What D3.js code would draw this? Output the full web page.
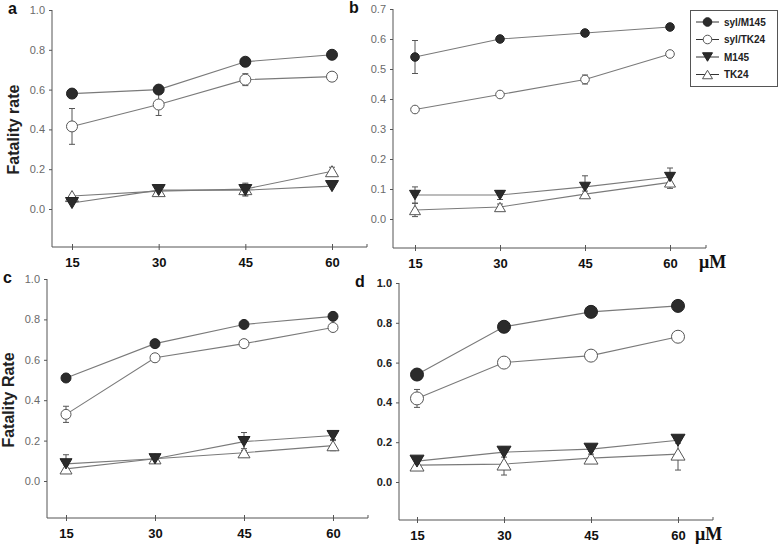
<!DOCTYPE html>
<html><head><meta charset="utf-8">
<script src="https://cdn.jsdelivr.net/npm/d3@7"></script>
<style>body{margin:0;background:#fff}svg{display:block}</style>
</head><body>
<script>
const doses = [15, 30, 45, 60];
const seriesNames = ["syl/M145", "syl/TK24", "M145", "TK24"];

// panel a
const aSylM145 = [0.58, 0.60, 0.74, 0.775], aSylM145Err = [0, 0, 0.01, 0];
const aSylTK24 = [0.415, 0.525, 0.65, 0.665], aSylTK24Err = [0.09, 0.055, 0.03, 0];
const aM145 = [0.03, 0.095, 0.095, 0.115], aM145Err = [0, 0.02, 0.03, 0];
const aTK24 = [0.065, 0.09, 0.10, 0.19], aTK24Err = [0, 0.02, 0.03, 0.02];
// panel b
const bSylM145 = [0.54, 0.60, 0.62, 0.64], bSylM145Err = [0.055, 0, 0, 0];
const bSylTK24 = [0.365, 0.415, 0.465, 0.55], bSylTK24Err = [0, 0, 0.015, 0];
const bM145 = [0.08, 0.08, 0.107, 0.14], bM145Err = [0.027, 0.015, 0.037, 0.03];
const bTK24 = [0.03, 0.04, 0.083, 0.122], bTK24Err = [0.022, 0.01, 0.01, 0.02];
// panel c
const cSylM145 = [0.51, 0.68, 0.775, 0.815], cSylM145Err = [0, 0, 0, 0];
const cSylTK24 = [0.33, 0.61, 0.68, 0.76], cSylTK24Err = [0.04, 0, 0, 0];
const cM145 = [0.085, 0.11, 0.195, 0.225], cM145Err = [0.045, 0.02, 0.045, 0.02];
const cTK24 = [0.06, 0.11, 0.14, 0.175], cTK24Err = [0.02, 0.02, 0.02, 0.025];
// panel d
const dSylM145 = [0.54, 0.78, 0.855, 0.885], dSylM145Err = [0, 0, 0, 0];
const dSylTK24 = [0.42, 0.60, 0.635, 0.73], dSylTK24Err = [0.045, 0, 0.02, 0];
const dM145 = [0.105, 0.15, 0.165, 0.21], dM145Err = [0.015, 0.025, 0.01, 0.015];
const dTK24 = [0.085, 0.09, 0.12, 0.14], dTK24Err = [0.015, 0.055, 0.02, 0.08];

const yTicksA = [0, 0.2, 0.4, 0.6, 0.8, 1.0];
const yTicksB = [0, 0.1, 0.2, 0.3, 0.4, 0.5, 0.6, 0.7];
const unitLabel = "\u03bcM";

const panels = [
  {id:"a", ylabel:"Fatality rate", yMax:1, yTicks:yTicksA, ax:52, top:10, y0:209, xaxY:247, x15:72, x60:332, xEnd:367, r:5.5, tri:6.5, unitX:null, dark:false,
   series:[[aSylM145,aSylM145Err],[aSylTK24,aSylTK24Err],[aM145,aM145Err],[aTK24,aTK24Err]]},
  {id:"b", ylabel:null, yMax:0.7, yTicks:yTicksB, ax:393, top:9, y0:219, xaxY:248, x15:415, x60:670, xEnd:706, r:4.3, tri:5.5, unitX:699, dark:false,
   series:[[bSylM145,bSylM145Err],[bSylTK24,bSylTK24Err],[bM145,bM145Err],[bTK24,bTK24Err]]},
  {id:"c", ylabel:"Fatality Rate", yMax:1, yTicks:yTicksA, ax:47, top:279, y0:481, xaxY:518, x15:66, x60:333, xEnd:368, r:5, tri:6, unitX:null, dark:false,
   series:[[cSylM145,cSylM145Err],[cSylTK24,cSylTK24Err],[cM145,cM145Err],[cTK24,cTK24Err]]},
  {id:"d", ylabel:null, yMax:1, yTicks:yTicksA, ax:399, top:283, y0:482, xaxY:520, x15:417, x60:678, xEnd:713, r:6.5, tri:7, unitX:695, dark:true,
   series:[[dSylM145,dSylM145Err],[dSylTK24,dSylTK24Err],[dM145,dM145Err],[dTK24,dTK24Err]]}
];

const svg = d3.select("body").append("svg").attr("width",780).attr("height",547)
  .style("font-family","Arial, 'Liberation Sans', sans-serif");

const lineCol = "#7a7a7a";
function triPath(size, down){
  const h = size*1.7, w = size;
  return down ? `M${-w},${-h/2}L${w},${-h/2}L0,${h/2}Z` : `M0,${-h/2}L${w},${h/2}L${-w},${h/2}Z`;
}
function drawMarker(g, kind, x, y, p){
  if(kind===0) g.append("circle").attr("cx",x).attr("cy",y).attr("r",p.r).attr("fill","#2b2b2b").attr("stroke","#222");
  else if(kind===1) g.append("circle").attr("cx",x).attr("cy",y).attr("r",p.r).attr("fill","#fff").attr("stroke","#555").attr("stroke-width",1);
  else if(kind===2) g.append("path").attr("d",triPath(p.tri,true)).attr("transform",`translate(${x},${y})`).attr("fill","#2b2b2b").attr("stroke","#222");
  else g.append("path").attr("d",triPath(p.tri,false)).attr("transform",`translate(${x},${y})`).attr("fill","#fff").attr("stroke","#555");
}

panels.forEach(p=>{
  const g = svg.append("g");
  const x = d3.scaleLinear().domain([15,60]).range([p.x15,p.x60]);
  const y = d3.scaleLinear().domain([0,p.yMax]).range([p.y0,p.top]);
  // y axis
  const yAx = d3.axisLeft(y).tickValues(p.yTicks).tickSize(3).tickPadding(4).tickFormat(d3.format(".1f"));
  const yg = g.append("g").attr("transform",`translate(${p.ax},0)`).call(yAx);
  yg.select(".domain").remove();
  yg.selectAll("line").attr("stroke","#555");
  yg.selectAll("text").attr("font-size", 11).attr("fill", p.dark ? "#222" : "#6a6a6a")
    .attr("font-weight", p.dark ? "bold" : "normal");
  g.append("line").attr("x1",p.ax).attr("x2",p.ax).attr("y1",p.top).attr("y2",p.xaxY).attr("stroke","#555");
  // x axis
  g.append("line").attr("x1",p.ax).attr("x2",p.xEnd).attr("y1",p.xaxY).attr("y2",p.xaxY).attr("stroke","#555");
  g.append("line").attr("x1",p.xEnd).attr("x2",p.xEnd).attr("y1",p.xaxY-3).attr("y2",p.xaxY).attr("stroke","#555");
  const xAx = d3.axisBottom(x).tickValues(doses).tickSizeInner(3).tickSizeOuter(0).tickPadding(8);
  const xg = g.append("g").attr("transform",`translate(0,${p.xaxY})`).call(xAx);
  xg.select(".domain").remove();
  xg.selectAll(".tick line").attr("y1",-3).attr("y2",3).attr("stroke","#555");
  xg.selectAll("text").attr("font-size",13).attr("font-weight","bold").attr("fill","#111");
  // panel label
  g.append("text").attr("x",p.ax - 44).attr("y",p.top+4).text(p.id)
    .attr("font-size",16).attr("font-weight","bold").attr("fill","#111");
  if(p.ylabel){
    g.append("text").attr("transform",`translate(${p.ax-33},${(p.y0+p.top)/2+20}) rotate(-90)`)
      .attr("text-anchor","middle").attr("font-size",16).attr("font-weight","bold").attr("fill","#222").text(p.ylabel);
  }
  if(p.unitX){
    g.append("text").attr("x",p.unitX).attr("y",p.xaxY+20).text(unitLabel)
      .attr("font-family","'Liberation Serif','DejaVu Serif',serif").attr("font-weight","bold").attr("font-size",18).attr("fill","#111");
  }
  const line = d3.line().x((d,i)=>x(doses[i])).y(d=>y(d));
  // lines
  p.series.forEach(([vals])=>{
    g.append("path").attr("d",line(vals)).attr("fill","none").attr("stroke",lineCol).attr("stroke-width",1.1);
  });
  // error bars
  p.series.forEach(([vals,errs])=>{
    vals.forEach((v,i)=>{
      if(!errs[i]) return;
      const cx = x(doses[i]), y1 = y(v+errs[i]), y2 = y(v-errs[i]);
      g.append("line").attr("x1",cx).attr("x2",cx).attr("y1",y1).attr("y2",y2).attr("stroke","#555");
      [y1,y2].forEach(yy=>g.append("line").attr("x1",cx-3).attr("x2",cx+3).attr("y1",yy).attr("y2",yy).attr("stroke","#555"));
    });
  });
  // markers: draw triangles, then circles
  [3,2,1,0].forEach(k=>{
    const vals = p.series[k][0];
    vals.forEach((v,i)=>drawMarker(g,k,x(doses[i]),y(v),p));
  });
});

// legend
const lg = svg.append("g");
lg.append("rect").attr("x",690.5).attr("y",10.5).attr("width",87).attr("height",76).attr("fill","#fff").attr("stroke","#555");
const legRows = [22, 39.5, 57, 74.5];
seriesNames.forEach((n,i)=>{
  const yy = legRows[i];
  lg.append("line").attr("x1",696).attr("x2",719).attr("y1",yy).attr("y2",yy).attr("stroke","#333");
  drawMarker(lg, i, 707.5, yy, {r:4.3, tri:5});
  lg.append("text").attr("x",724).attr("y",yy+3.5).text(n).attr("font-size",10).attr("font-weight","bold").attr("fill","#222");
});
</script>
</body></html>
